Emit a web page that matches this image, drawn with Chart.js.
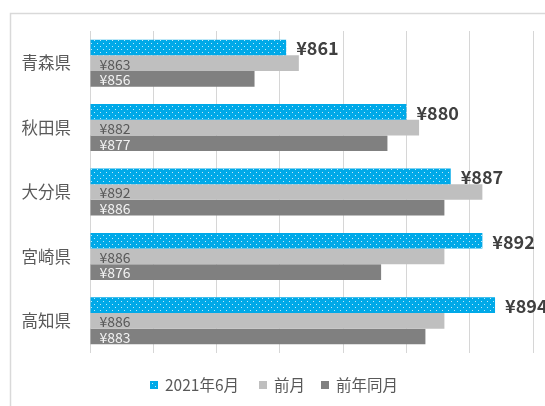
<!DOCTYPE html>
<html><head><meta charset="utf-8">
<script src="https://cdn.jsdelivr.net/npm/chart.js@4/dist/chart.umd.min.js"></script>
<style>html,body{margin:0;padding:0;background:#fff;}#wrap{width:545px;height:406px;position:relative;}</style>
</head><body><div id="wrap"><canvas id="c" width="545" height="406"></canvas></div>
<script>
const categories = ['青森県','秋田県','大分県','宮崎県','高知県'];
const seriesNames = ['2021年6月','前月','前年同月'];
const current = [861, 880, 887, 892, 894];
const prevMonth = [863, 882, 892, 886, 886];
const prevYear = [856, 877, 886, 876, 883];
const xMin = 830, xMax = 900, xStep = 10;

const FONT = '"Noto Sans CJK JP", "Noto Sans", sans-serif';

function dotPattern(){
  const p = document.createElement('canvas');
  p.width = 6; p.height = 6;
  const g = p.getContext('2d');
  g.fillStyle = '#00a9e8'; g.fillRect(0,0,6,6);
  g.fillStyle = 'rgba(255,255,255,0.75)';
  g.fillRect(1,1,1,1); g.fillRect(4,4,1,1);
  return document.getElementById('c').getContext('2d').createPattern(p,'repeat');
}
const blueFill = dotPattern();
const colors = [blueFill, '#bfbfbf', '#808080'];
const legendColors = ['#00a9e8', '#bfbfbf', '#808080'];

const deco = {
  id:'deco',
  beforeDraw(chart){
    const ctx = chart.ctx;
    ctx.save();
    ctx.fillStyle = '#fff'; ctx.fillRect(0,0,chart.width,chart.height);
    ctx.strokeStyle = '#d9d9d9'; ctx.lineWidth = 1.5;
    ctx.beginPath(); ctx.moveTo(10.5, 420); ctx.lineTo(10.5, 13.5); ctx.lineTo(560, 13.5); ctx.stroke();
    ctx.restore();
  },
  afterDatasetsDraw(chart){
    const ctx = chart.ctx;
    ctx.save();
    ctx.textBaseline = 'middle';
    chart.data.datasets.forEach((ds, di) => {
      const meta = chart.getDatasetMeta(di);
      meta.data.forEach((bar, i) => {
        const v = ds.data[i];
        const txt = '¥' + v;
        if (di === 0) {
          ctx.font = 'bold 18px ' + FONT; ctx.fillStyle = '#404040'; ctx.textAlign = 'left';
          ctx.fillText(txt, bar.x + 10, bar.y + 1);
        } else {
          ctx.font = '14px ' + FONT; ctx.textAlign = 'left';
          ctx.fillStyle = di === 1 ? '#595959' : '#f2f2f2';
          ctx.fillText(txt, bar.base + 9, bar.y + 1);
        }
      });
    });
    // legend
    ctx.font = '15.5px ' + FONT; ctx.textAlign = 'left';
    const items = [{x:150, tx:165},{x:259, tx:274},{x:321, tx:336}];
    seriesNames.forEach((n, k) => {
      const it = items[k];
      ctx.fillStyle = legendColors[k];
      ctx.fillRect(it.x, 381, 8, 8);
      if (k === 0) { ctx.fillStyle = 'rgba(255,255,255,0.8)'; ctx.fillRect(it.x+2, 383, 1, 1); ctx.fillRect(it.x+5, 386, 1, 1); }
      ctx.fillStyle = '#595959';
      ctx.fillText(n, it.tx, 385);
    });
    ctx.restore();
  }
};

new Chart(document.getElementById('c'), {
  type: 'bar',
  data: {
    labels: categories,
    datasets: [
      {label: seriesNames[0], data: current, backgroundColor: colors[0]},
      {label: seriesNames[1], data: prevMonth, backgroundColor: colors[1]},
      {label: seriesNames[2], data: prevYear, backgroundColor: colors[2]}
    ]
  },
  options: {
    indexAxis: 'y',
    responsive: false,
    animation: false,
    devicePixelRatio: 1,
    layout: {padding: {left: 0, right: 12, top: 31, bottom: 53}},
    datasets: {bar: {categoryPercentage: 0.73, barPercentage: 1.0, base: xMin}},
    plugins: {legend: {display: false}, tooltip: {enabled: false}, title: {display: false}},
    scales: {
      x: {
        min: xMin, max: xMax,
        ticks: {display: false, stepSize: xStep},
        grid: {color: '#d6d6d6', lineWidth: 1, drawTicks: false},
        border: {display: false}
      },
      y: {
        afterFit(scale){ scale.width = 90; },
        ticks: {font: {family: FONT, size: 16.5}, color: '#595959', padding: 19},
        grid: {display: false, drawTicks: false},
        border: {display: false}
      }
    }
  },
  plugins: [deco]
});
</script></body></html>
